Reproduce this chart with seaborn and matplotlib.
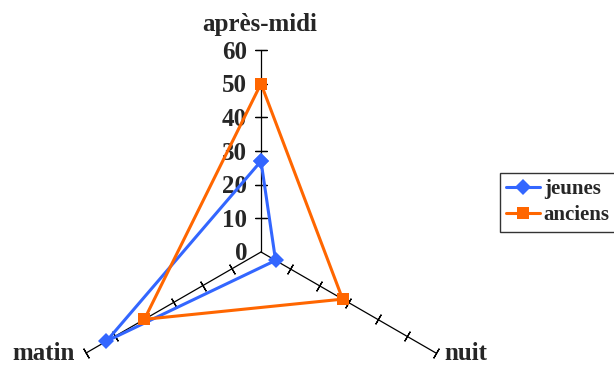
import numpy as np
import pandas as pd
import matplotlib
matplotlib.use('Agg')
import matplotlib.pyplot as plt
import seaborn as sns

# Data
categories = ['après-midi', 'nuit', 'matin']
jeunes = [27, 5, 53]
anciens = [50, 28, 40]
ticks = [0, 10, 20, 30, 40, 50, 60]

sns.set_style('white')
plt.rcParams['font.family'] = ['Liberation Serif', 'DejaVu Serif']
plt.rcParams['font.weight'] = 'bold'

W, H = 614, 365
fig = plt.figure(figsize=(W / 100, H / 100), dpi=100)

# polar axes placed so that the centre sits at (261, 252) px, radius 60 -> 202 px
cx, cy, R = 261, 252, 202
ax = fig.add_axes([(cx - R) / W, (H - cy - R) / H, 2 * R / W, 2 * R / H], projection='polar')
ax.set_theta_offset(np.pi / 2)
ax.set_theta_direction(-1)
ax.set_ylim(0, 60)
ax.grid(False)
ax.set_xticks([])
ax.set_yticks([])
ax.spines['polar'].set_visible(False)
ax.patch.set_visible(False)

theta = np.arange(len(categories)) * 2 * np.pi / len(categories)

# spokes with perpendicular tick marks
for i, t in enumerate(theta):
    ax.plot([t, t], [0, 60], color='black', lw=0.9, zorder=1, clip_on=False)
    direction = 90 - np.degrees(t)  # screen angle of the spoke
    ms = 9 if i == 0 else 8
    ax.plot([t] * 6, ticks[1:], ls='none', marker=(2, 2, direction),
            markersize=ms, markeredgewidth=0.9, color='black', zorder=1, clip_on=False)

# values on the vertical axis
for v in ticks:
    ax.annotate(str(v), xy=(theta[0], v), xytext=(-14, -2), textcoords='offset pixels',
                ha='right', va='center', fontsize=18, fontweight='bold')

rows = []
for name, vals in [('jeunes', jeunes), ('anciens', anciens)]:
    for k in list(range(len(categories))) + [0]:
        rows.append({'groupe': name, 'theta': theta[k], 'r': vals[k]})
df = pd.DataFrame(rows)

sns.lineplot(data=df, x='theta', y='r', hue='groupe', style='groupe', sort=False,
             estimator=None,
             palette={'jeunes': '#3366ff', 'anciens': '#ff6600'},
             markers={'jeunes': 'D', 'anciens': 's'}, dashes=False,
             linewidth=2.2, markersize=8.5, markeredgewidth=0, ax=ax, zorder=3)
for line in ax.get_lines():
    line.set_clip_on(False)
ax.set_xlabel('')
ax.set_ylabel('')

leg = ax.get_legend()
handles = leg.legend_handles
labels = [t.get_text() for t in leg.get_texts()]
leg.remove()
ax.legend(handles, labels, loc='upper left', bbox_to_anchor=(500 / W, 1 - 173 / H),
          bbox_transform=fig.transFigure, frameon=True, fancybox=False,
          edgecolor='black', handlelength=1.6, handletextpad=0.2,
          labelspacing=0.3, borderpad=0.3, borderaxespad=0,
          prop={'weight': 'bold', 'size': 15})
ax.get_legend().get_frame().set_linewidth(1.0)

# category labels
fig.text(260 / W, 1 - 24 / H, categories[0], ha='center', va='center', fontsize=18, fontweight='bold')
fig.text(466 / W, 1 - 353 / H, categories[1], ha='center', va='center', fontsize=18, fontweight='bold')
fig.text(44 / W, 1 - 353 / H, categories[2], ha='center', va='center', fontsize=18, fontweight='bold')

fig.savefig('out.png', dpi=100)
